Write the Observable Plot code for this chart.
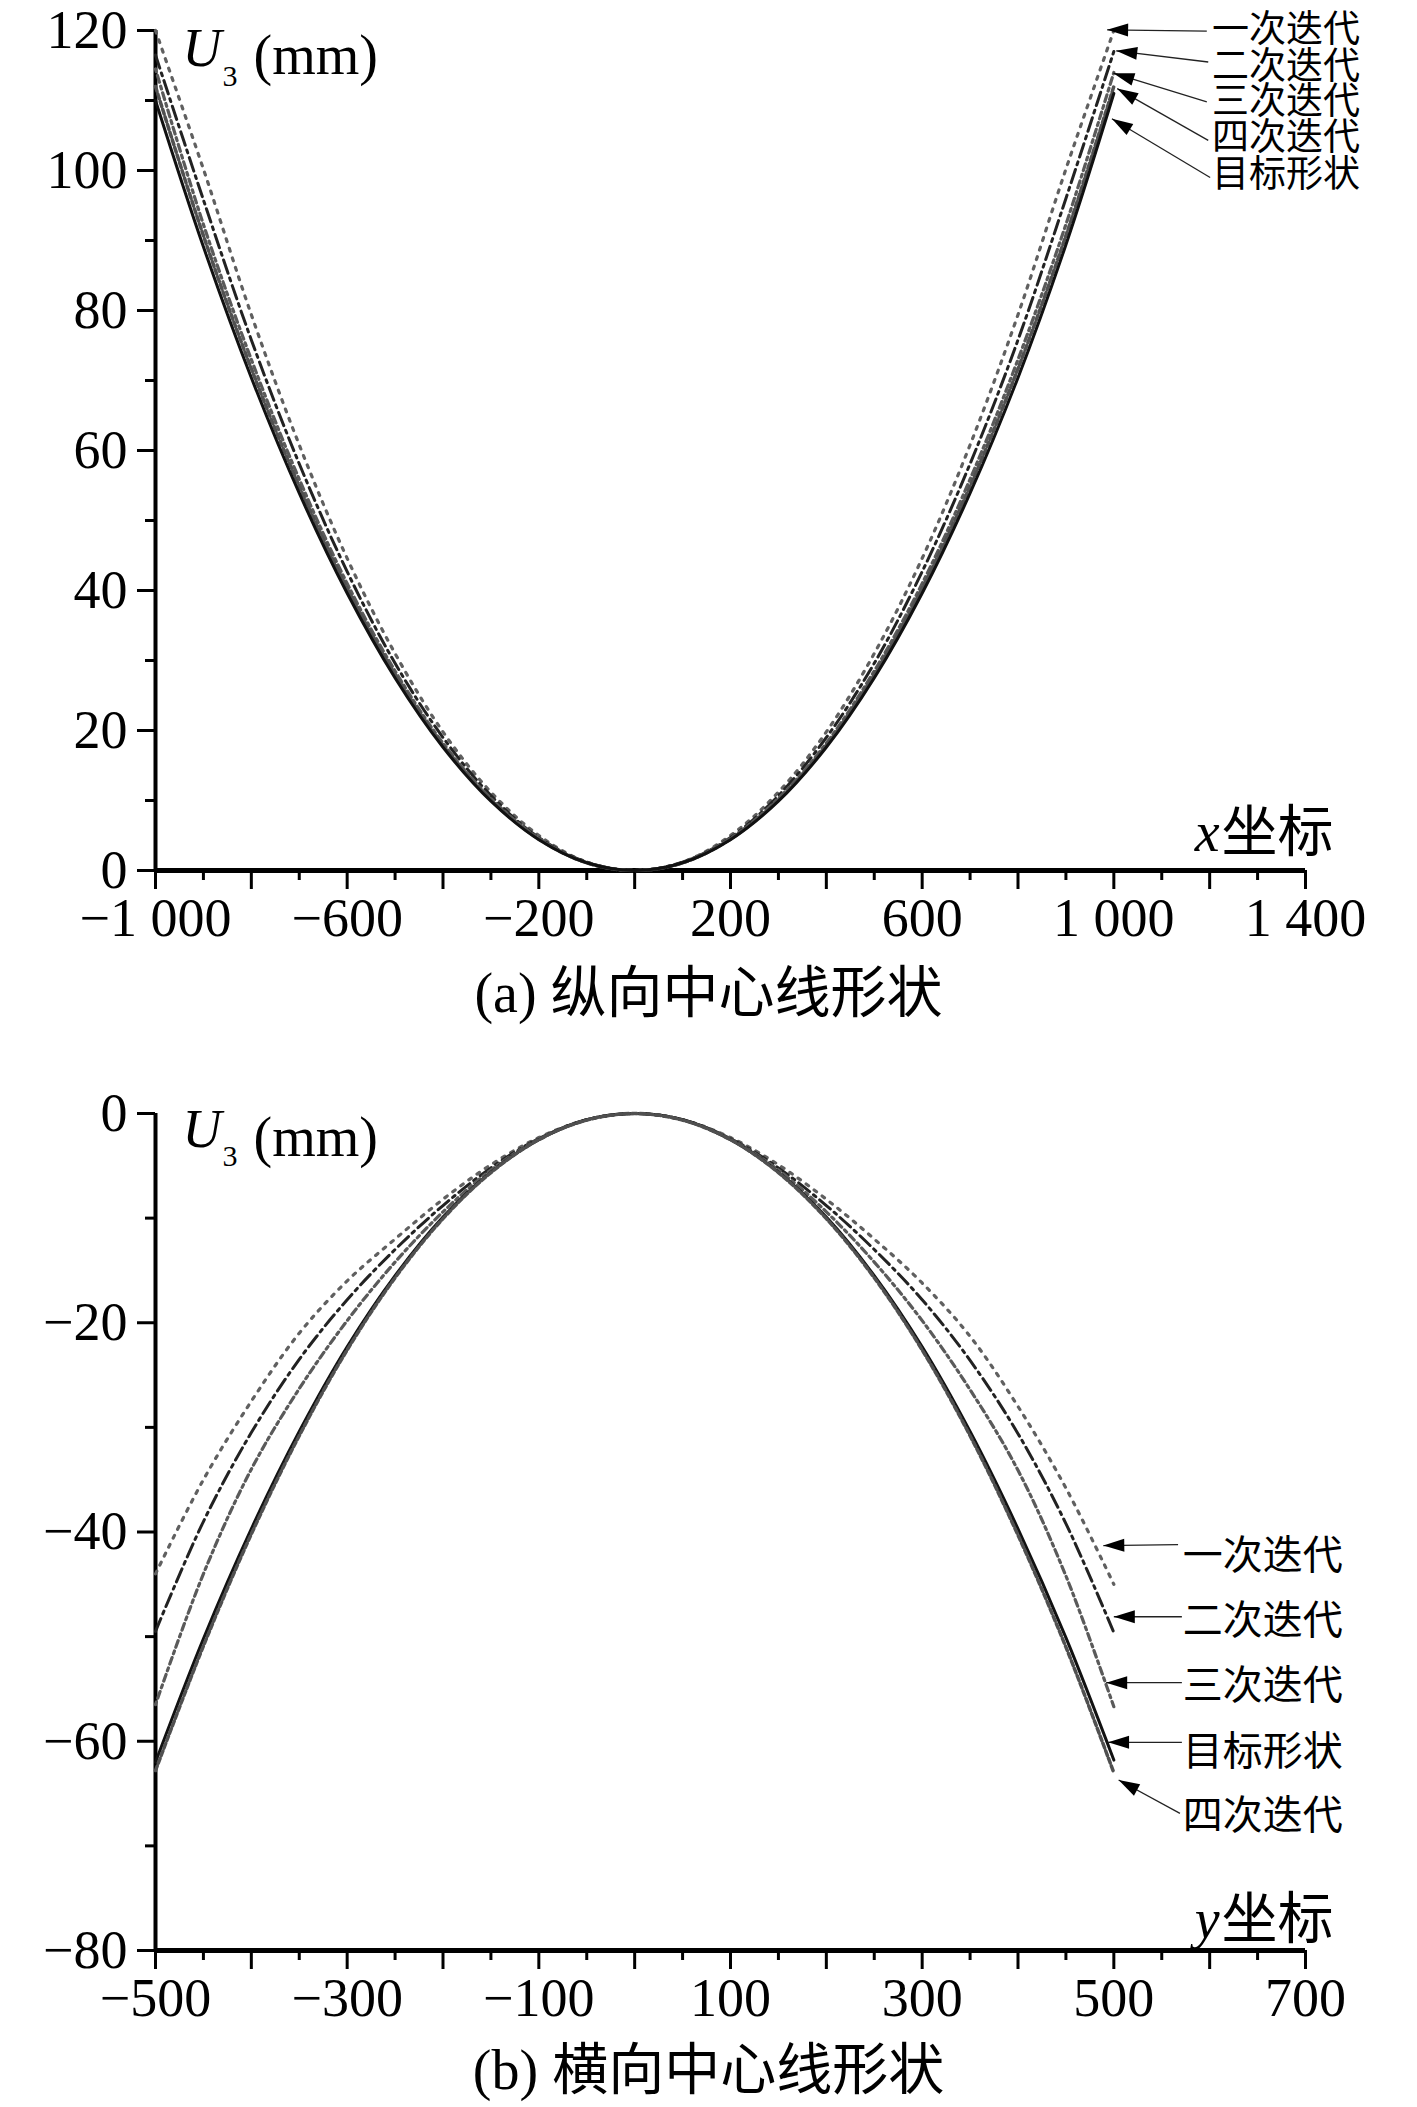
<!DOCTYPE html>
<html>
<head>
<meta charset="utf-8">
<script src="https://cdn.jsdelivr.net/npm/d3@7"></script>
<script src="https://cdn.jsdelivr.net/npm/@observablehq/plot@0.6"></script>
<style>
  html, body { margin: 0; padding: 0; background: #fff; }
  body { width: 1417px; }
  .cap { width: 1417px; text-align: center; color: #000;
         font-family: 'Liberation Serif', 'Noto Sans CJK SC', serif; font-size: 56px; }
  #capA { height: 86px; line-height: 86px; }
  #capB { height: 77px; line-height: 80px; }
</style>
</head>
<body>
<div id="a"></div>
<div class="cap" id="capA">(a) 纵向中心线形状</div>
<div id="b"></div>
<div class="cap" id="capB">(b) 横向中心线形状</div>
<script>
// ---------- Panel (a): longitudinal centre line ----------
const aX = [-1000,-900,-800,-700,-600,-500,-400,-300,-200,-100,0,100,200,300,400,500,600,700,800,900,1000];
const aIter1  = [120.0,100.2,79.4,60.8,44.6,31.0,19.8,11.2,5.0,1.2,0,1.2,5.0,11.2,19.8,31.0,44.6,60.8,79.4,100.2,120.0];
const aIter2  = [116.5,95.8,75.8,58.1,42.7,29.6,19.0,10.7,4.7,1.2,0,1.2,4.7,10.7,19.0,29.6,42.7,58.1,75.8,96.0,117.0];
const aIter3  = [114.5,92.3,73.0,55.9,41.0,28.5,18.2,10.3,4.6,1.1,0,1.1,4.6,10.3,18.2,28.5,41.0,55.9,73.0,92.3,114.0];
const aIter4  = [112.0,90.7,71.7,54.9,40.3,28.0,17.9,10.1,4.5,1.1,0,1.1,4.5,10.1,17.9,28.0,40.3,54.9,71.7,90.7,112.0];
const aTarget = [110.0,89.1,70.4,53.9,39.6,27.5,17.6,9.9,4.4,1.1,0,1.1,4.4,9.9,17.6,27.5,39.6,53.9,70.4,89.4,111.0];

const aXTicksLong  = [-1000,-800,-600,-400,-200,0,200,400,600,800,1000,1200,1400];
const aXTickLabels = [-1000,-600,-200,200,600,1000,1400];
const aXTicksShort = [-900,-700,-500,-300,-100,100,300,500,700,900,1100,1300];
const aYTicksMajor = [0,20,40,60,80,100,120];
const aYTicksMinor = [10,30,50,70,90,110];

const aLabels   = ["一次迭代","二次迭代","三次迭代","四次迭代","目标形状"];
const aLabelX   = [1205,1205,1205,1205,1205];
const aLabelY   = [120.0,114.8,109.8,104.6,99.3];
const aTailX    = [1194,1197,1194,1197,1201];
const aTailY    = [119.9,115.5,109.8,104.3,99.0];
const aTipX     = [986,1005,999,1007,996];
const aTipY     = [120.1,117.1,113.9,111.7,107.4];

// ---------- Panel (b): transverse centre line ----------
const bX = [-500,-450,-400,-350,-300,-250,-200,-150,-100,-50,0,50,100,150,200,250,300,350,400,450,500];
const bIter1  = [-44.0,-35.0,-27.5,-21.0,-16.0,-12.0,-8.2,-4.9,-2.3,-0.6,0,-0.6,-2.3,-4.9,-8.2,-12.0,-16.2,-21.3,-28.0,-35.8,-45.0];
const bIter2  = [-49.5,-39.0,-30.5,-23.5,-17.8,-13.0,-8.8,-5.2,-2.4,-0.6,0,-0.6,-2.4,-5.2,-8.8,-13.0,-17.8,-23.6,-30.6,-39.2,-49.6];
const bIter3  = [-56.5,-44.0,-34.0,-26.3,-19.8,-14.2,-9.4,-5.4,-2.45,-0.6,0,-0.6,-2.45,-5.4,-9.4,-14.2,-19.8,-26.4,-34.1,-44.2,-56.7];
const bTarget = [-62.0,-50.2,-39.7,-30.4,-22.3,-15.5,-9.9,-5.6,-2.5,-0.6,0,-0.6,-2.5,-5.6,-9.9,-15.5,-22.3,-30.4,-39.7,-50.1,-61.8];
const bIter4  = [-62.8,-50.9,-40.2,-30.8,-22.6,-15.7,-10.05,-5.65,-2.5,-0.63,0,-0.63,-2.5,-5.65,-10.05,-15.7,-22.6,-30.8,-40.3,-51.0,-63.0];

const bXTicksLong  = [-500,-400,-300,-200,-100,0,100,200,300,400,500,600,700];
const bXTickLabels = [-500,-300,-100,100,300,500,700];
const bXTicksShort = [-450,-350,-250,-150,-50,50,150,250,350,450,550,650];
const bYTicksMajor = [0,-20,-40,-60,-80];
const bYTicksMinor = [-10,-30,-50,-70];

const bLabels   = ["一次迭代","二次迭代","三次迭代","目标形状","四次迭代"];
const bLabelX   = [572,572,572,572,572];
const bLabelY   = [-42.3,-48.5,-54.7,-61.0,-67.2];
const bTailX    = [567,571,571,571,569];
const bTailY    = [-41.2,-48.1,-54.4,-60.1,-66.9];
const bTipX     = [489,500,492,494,505];
const bTipY     = [-41.3,-48.1,-54.4,-60.1,-63.7];

// ---------- helpers ----------
const seriesStyle = {
  "一次迭代": {stroke: "#606060", strokeWidth: 3.2, strokeDasharray: "3,7"},
  "二次迭代": {stroke: "#222222", strokeWidth: 3, strokeDasharray: "14,5,3,5"},
  "三次迭代": {stroke: "#5a5a5a", strokeWidth: 3.2, strokeDasharray: "3,4,7,4"},
  "四次迭代": {stroke: "#505050", strokeWidth: 3.5, strokeDasharray: "5,3"},
  "目标形状": {stroke: "#111111", strokeWidth: 3}
};

function fmt(d) {
  const s = String(Math.abs(d)).replace(/\B(?=(\d{3})+(?!\d))/g, "\u00a0");
  return d < 0 ? "\u2212" + s : s;
}

function toRows(xs, ys) { return xs.map((x, i) => ({x, v: ys[i]})); }

function annoRows(labels, lx, ly, sx, sy, tx, ty) {
  return labels.map((t, i) => ({t, lx: lx[i], ly: ly[i], sx: sx[i], sy: sy[i], tx: tx[i], ty: ty[i]}));
}

function addArrowheads(svg, id) {
  const ns = "http://www.w3.org/2000/svg";
  const defs = document.createElementNS(ns, "defs");
  const m = document.createElementNS(ns, "marker");
  m.setAttribute("id", id);
  m.setAttribute("viewBox", "-23 -8 24 16");
  m.setAttribute("markerWidth", "24");
  m.setAttribute("markerHeight", "16");
  m.setAttribute("markerUnits", "userSpaceOnUse");
  m.setAttribute("orient", "auto");
  m.setAttribute("refX", "0");
  m.setAttribute("refY", "0");
  const p = document.createElementNS(ns, "path");
  p.setAttribute("d", "M0,0L-21,-6.5L-21,6.5Z");
  p.setAttribute("fill", "#000");
  p.setAttribute("stroke", "none");
  m.appendChild(p);
  defs.appendChild(m);
  svg.insertBefore(defs, svg.firstChild);
  svg.querySelectorAll('g[aria-label="link"] path').forEach(el => el.setAttribute("marker-end", `url(#${id})`));
}

const baseStyle = {
  fontFamily: "'Liberation Serif', 'Noto Sans CJK SC', serif",
  fontSize: "54px",
  color: "#000",
  background: "#fff",
  overflow: "visible",
  display: "block"
};
const cjk = "'Noto Sans CJK SC', sans-serif";

function panel(cfg) {
  const lineMarks = cfg.series.map(([name, ys]) =>
    Plot.line(toRows(cfg.xs, ys), {x: "x", y: "v", curve: "catmull-rom", ...seriesStyle[name]})
  );
  const anno = cfg.anno;
  return Plot.plot({
    width: 1417, height: cfg.height,
    marginLeft: 155, marginRight: 112, marginTop: cfg.marginTop, marginBottom: 80,
    x: {domain: cfg.xDomain, label: null},
    y: {domain: cfg.yDomain, label: null},
    style: baseStyle,
    marks: [
      Plot.axisY({ticks: cfg.yMajor, tickSize: 18, tickPadding: 10, strokeWidth: 3, tickFormat: fmt, label: null}),
      Plot.axisY({ticks: cfg.yMinor, tickSize: 10, strokeWidth: 3, tickFormat: () => "", label: null}),
      Plot.axisX({ticks: cfg.xLong, tickSize: 19, tickPadding: 8, strokeWidth: 3,
                  tickFormat: d => cfg.xLabels.includes(d) ? fmt(d) : "", label: null}),
      Plot.axisX({ticks: cfg.xShort, tickSize: 10, strokeWidth: 3, tickFormat: () => "", label: null}),
      Plot.ruleX([cfg.xDomain[0]], {strokeWidth: 4}),
      Plot.ruleY([cfg.yDomain[0]], {strokeWidth: 5}),
      ...lineMarks,
      Plot.link(anno, {x1: "sx", y1: "sy", x2: "tx", y2: "ty", stroke: "#222", strokeWidth: 1.3}),
      Plot.text(anno, {x: "lx", y: "ly", text: "t", textAnchor: "start", lineAnchor: "middle",
                       fontFamily: cjk, fontSize: cfg.labelSize}),
      Plot.text(["U"], {frameAnchor: "top-left", dx: 27, dy: cfg.uDy[0], textAnchor: "start", lineAnchor: "bottom",
                        fontStyle: "italic", fontSize: 54}),
      Plot.text(["3"], {frameAnchor: "top-left", dx: 67, dy: cfg.uDy[1], textAnchor: "start", lineAnchor: "bottom",
                        fontSize: 30}),
      Plot.text(["(mm)"], {frameAnchor: "top-left", dx: 98, dy: cfg.uDy[2], textAnchor: "start", lineAnchor: "bottom",
                           fontSize: 56}),
      Plot.text(["坐标"], {frameAnchor: "bottom-right", dx: 28, dy: cfg.axDy, textAnchor: "end", lineAnchor: "bottom",
                          fontFamily: cjk, fontSize: 56}),
      Plot.text([cfg.axName], {frameAnchor: "bottom-right", dx: -86, dy: cfg.axDy, textAnchor: "end", lineAnchor: "bottom",
                               fontStyle: "italic", fontSize: 56})
    ]
  });
}

const svgA = panel({
  height: 950, marginTop: 30,
  xs: aX,
  series: [["一次迭代", aIter1], ["二次迭代", aIter2], ["三次迭代", aIter3], ["四次迭代", aIter4], ["目标形状", aTarget]],
  xDomain: [-1000, 1400], yDomain: [0, 120],
  xLong: aXTicksLong, xLabels: aXTickLabels, xShort: aXTicksShort,
  yMajor: aYTicksMajor, yMinor: aYTicksMinor,
  anno: annoRows(aLabels, aLabelX, aLabelY, aTailX, aTailY, aTipX, aTipY),
  labelSize: 37,
  uDy: [35, 55, 43], axDy: -20, axName: "x"
});
addArrowheads(svgA, "arrowA");
document.getElementById("a").appendChild(svgA);

const svgB = panel({
  height: 994, marginTop: 77,
  xs: bX,
  series: [["一次迭代", bIter1], ["二次迭代", bIter2], ["三次迭代", bIter3], ["目标形状", bTarget], ["四次迭代", bIter4]],
  xDomain: [-500, 700], yDomain: [-80, 0],
  xLong: bXTicksLong, xLabels: bXTickLabels, xShort: bXTicksShort,
  yMajor: bYTicksMajor, yMinor: bYTicksMinor,
  anno: annoRows(bLabels, bLabelX, bLabelY, bTailX, bTailY, bTipX, bTipY),
  labelSize: 40,
  uDy: [33, 52, 42], axDy: -13, axName: "y"
});
addArrowheads(svgB, "arrowB");
document.getElementById("b").appendChild(svgB);
</script>
</body>
</html>
